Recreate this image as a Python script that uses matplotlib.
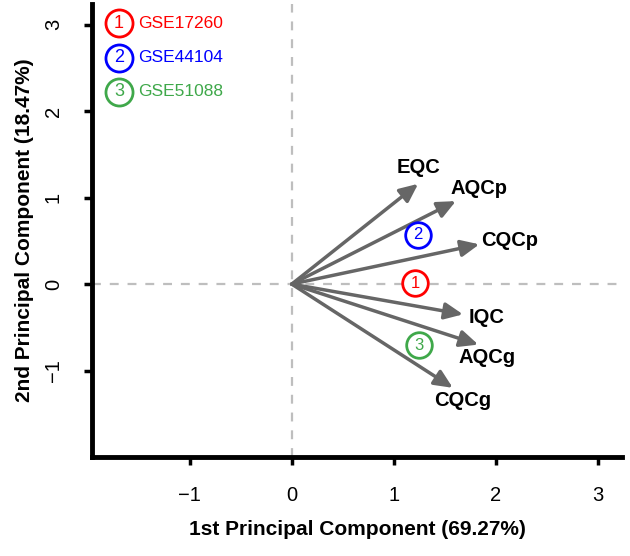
from matplotlib import pyplot as plt

# loadings of the quality scores on the first two components
features = ['EQC', 'AQCp', 'CQCp', 'IQC', 'AQCg', 'CQCg']
pc1 = [1.24, 1.61, 1.84, 1.68, 1.83, 1.58]
pc2 = [1.16, 0.96, 0.46, -0.35, -0.70, -1.20]

# dataset positions
datasets = ['GSE17260', 'GSE44104', 'GSE51088']
ds_num = ['1', '2', '3']
ds_pc1 = [1.21, 1.24, 1.25]
ds_pc2 = [0.01, 0.57, -0.71]
ds_colors = ['#FF0000', '#0000FF', '#3FA84A']

xticks = [-1, 0, 1, 2, 3]
yticks = [-1, 0, 1, 2, 3]

# label offsets from the arrow tips (points)
label_offsets = [(0, 12), (17, 9), (22, 3), (17, -2), (6, -9), (7, -9)]

plt.rcParams['font.family'] = ['Liberation Sans', 'DejaVu Sans']

fig = plt.figure(figsize=(6.3, 5.56), dpi=100, facecolor='white')
ax = fig.add_axes([92 / 630, 99 / 556, 530 / 630, 453 / 556])

ax.set_xlim(-1.96, 3.24)
ax.set_ylim(-2.0, 3.24)

ax.axhline(0, color='#BEBEBE', lw=1.6, dashes=(4, 4), zorder=1)
ax.axvline(0, color='#BEBEBE', lw=1.6, dashes=(4, 4), zorder=1)

for name, x, y, off in zip(features, pc1, pc2, label_offsets):
    ax.annotate('', xy=(x, y), xytext=(0, 0),
                arrowprops=dict(arrowstyle='-|>,head_length=0.55,head_width=0.25',
                                color='#666666', lw=2.5, shrinkA=0, shrinkB=0,
                                mutation_scale=20), zorder=2)
    ax.annotate(name, xy=(x, y), xytext=off, textcoords='offset points',
                ha='center', va='center', fontsize=14.5, fontweight='bold',
                color='black', zorder=3)

for num, x, y, c in zip(ds_num, ds_pc1, ds_pc2, ds_colors):
    ax.scatter([x], [y], s=340, facecolors='white', edgecolors=c, linewidths=2, zorder=4)
    ax.text(x, y, num, ha='center', va='center', fontsize=12, color=c, zorder=5)

# legend drawn by hand, R style
legend_y = [0.958, 0.881, 0.806]
for name, num, c, ly in zip(datasets, ds_num, ds_colors, legend_y):
    ax.scatter([0.051], [ly], s=380, facecolors='white', edgecolors=c, linewidths=2,
               transform=ax.transAxes, clip_on=False, zorder=4)
    ax.text(0.051, ly, num, ha='center', va='center', fontsize=13, color=c,
            transform=ax.transAxes, zorder=5)
    ax.text(0.087, ly, name, ha='left', va='center', fontsize=12.5, color=c,
            transform=ax.transAxes)

for side in ['top', 'right']:
    ax.spines[side].set_visible(False)
for side in ['left', 'bottom']:
    ax.spines[side].set_linewidth(3.5)
    ax.spines[side].set_capstyle('projecting')

ax.set_xticks(xticks)
ax.set_yticks(yticks)
ax.tick_params(axis='both', length=6, width=2.5, pad=15, labelsize=14.5)
ax.tick_params(axis='y', labelrotation=90)
for lbl in ax.get_yticklabels():
    lbl.set_va('center')

ax.set_xlabel('1st Principal Component (69.27%)', fontsize=15, fontweight='bold', labelpad=11)
ax.set_ylabel('2nd Principal Component (18.47%)', fontsize=15, fontweight='bold', labelpad=7)

fig.savefig('out.png', dpi=100)
